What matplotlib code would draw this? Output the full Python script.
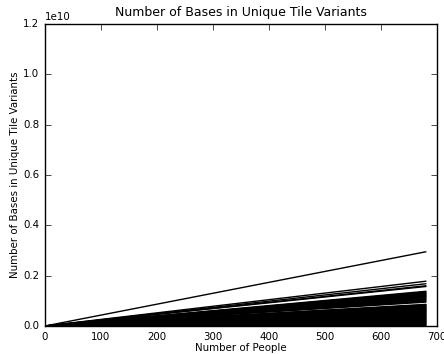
import matplotlib
matplotlib.use('Agg')
import matplotlib.pyplot as plt

# endpoints of the straight lines: people counts and final base counts
people = [0, 680]
final_bases = [
    2.95e9,
    1.78e9, 1.68e9, 1.60e9, 1.57e9,
    1.38e9, 1.35e9, 1.33e9, 1.30e9, 1.28e9, 1.26e9, 1.23e9, 1.21e9,
    1.18e9, 1.16e9, 1.13e9, 1.10e9, 1.07e9, 1.04e9, 1.01e9, 0.98e9, 0.95e9,
    0.86e9, 0.84e9, 0.82e9, 0.80e9, 0.78e9, 0.76e9, 0.74e9, 0.72e9, 0.70e9,
    0.68e9, 0.66e9, 0.64e9, 0.62e9, 0.60e9, 0.58e9, 0.56e9, 0.54e9, 0.52e9,
    0.50e9, 0.48e9, 0.46e9, 0.44e9, 0.42e9, 0.40e9, 0.38e9, 0.36e9, 0.34e9,
    0.32e9, 0.30e9, 0.28e9, 0.26e9, 0.24e9, 0.22e9, 0.20e9, 0.18e9, 0.16e9,
    0.14e9, 0.12e9, 0.10e9, 0.08e9, 0.06e9, 0.04e9, 0.02e9,
]

plt.style.use('classic')
plt.rcParams['font.family'] = 'DejaVu Sans'

fig = plt.figure(figsize=(4.44, 3.54), dpi=100)
ax = fig.add_axes([0.101, 0.079, 0.883, 0.853])

for v in final_bases:
    ax.plot(people, [0, v], color='black', linewidth=1)

ax.set_xlim(0, 700)
ax.set_ylim(0, 1.2e10)
ax.set_title('Number of Bases in Unique Tile Variants', fontsize=9, y=1.005)
ax.set_xlabel('Number of People', fontsize=7.4, labelpad=1)
ax.set_ylabel('Number of Bases in Unique Tile Variants', fontsize=7.4, labelpad=2)
ax.tick_params(labelsize=7.4)
ax.yaxis.get_offset_text().set_fontsize(7.4)

fig.savefig('out.png', dpi=100)
